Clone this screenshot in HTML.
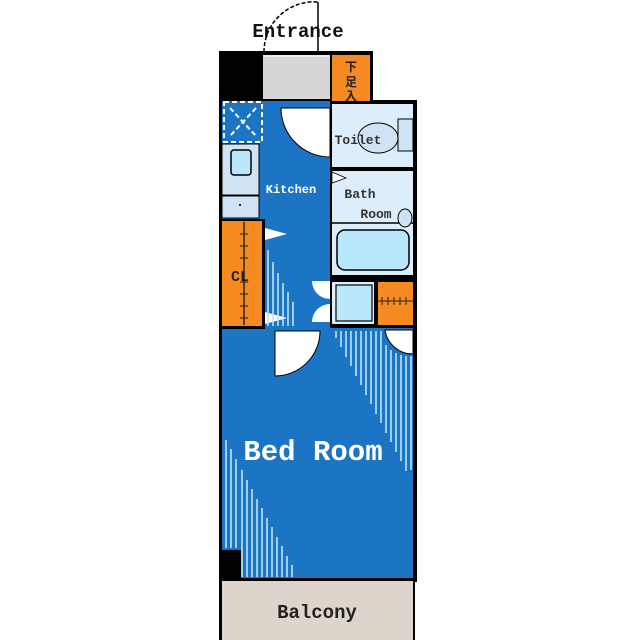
<!DOCTYPE html>
<html><head><meta charset="utf-8"><style>
html,body{margin:0;padding:0;background:#fff;width:635px;height:640px;overflow:hidden}
svg{display:block}
text{font-family:"Liberation Mono","Noto Sans CJK JP",monospace;font-weight:bold}
</style></head><body>
<svg width="635" height="640" viewBox="0 0 635 640" xmlns="http://www.w3.org/2000/svg">
<!-- entrance door arc -->
<path d="M264 52 A50 50 0 0 1 318 2" fill="none" stroke="#000" stroke-width="1.5" stroke-dasharray="4,2"/>
<line x1="318" y1="2" x2="318" y2="52" stroke="#000" stroke-width="1.5"/>
<text x="298" y="37" font-size="19" text-anchor="middle" fill="#111">Entrance</text>
<!-- outer walls -->
<rect x="219" y="51" width="154" height="52" fill="#000"/>
<rect x="219" y="100" width="198" height="482" fill="#000"/>
<rect x="219" y="578" width="196" height="62" fill="#000"/>
<!-- entrance gray -->
<rect x="263" y="55" width="67" height="44" fill="#d6d6d6"/>
<line x1="263" y1="56" x2="330" y2="56" stroke="#fff" stroke-width="1"/>
<!-- 下足入 -->
<rect x="332" y="55" width="38" height="46" fill="#f58a20"/>
<text x="351" y="71" font-size="12" text-anchor="middle" fill="#222">下</text>
<text x="351" y="86" font-size="12" text-anchor="middle" fill="#222">足</text>
<text x="351" y="100" font-size="12" text-anchor="middle" fill="#222">入</text>
<!-- blue main -->
<rect x="222" y="101" width="108" height="227" fill="#1c74c4"/>
<rect x="222" y="328" width="191" height="250" fill="#1c74c4"/>
<!-- X box -->
<rect x="224" y="102" width="38" height="40" fill="#1c74c4" stroke="#fff" stroke-width="2" stroke-dasharray="5,3"/>
<path d="M230 108 L256 136 M256 108 L230 136" stroke="#fff" stroke-width="2" stroke-dasharray="5,3"/>
<!-- sink -->
<rect x="222" y="144" width="37" height="51" fill="#cfe3f5" stroke="#000" stroke-width="1"/>
<rect x="231" y="150" width="20" height="25" rx="3" fill="#b8e8fa" stroke="#000" stroke-width="1.5"/>
<rect x="222" y="196" width="37" height="22" fill="#cfe3f5" stroke="#000" stroke-width="1"/>
<circle cx="240" cy="205" r="1" fill="#000"/>
<!-- CL -->
<rect x="220" y="219" width="45" height="110" fill="#000"/>
<rect x="222" y="221" width="40" height="105" fill="#f58a20"/>
<line x1="244" y1="222" x2="244" y2="325" stroke="#222" stroke-width="1.5"/>
<g stroke="#222" stroke-width="1"><line x1="240" y1="234" x2="248" y2="234"/><line x1="240" y1="246" x2="248" y2="246"/><line x1="240" y1="258" x2="248" y2="258"/><line x1="240" y1="282" x2="248" y2="282"/><line x1="240" y1="294" x2="248" y2="294"/><line x1="240" y1="306" x2="248" y2="306"/><line x1="240" y1="318" x2="248" y2="318"/></g>
<text x="240" y="281" font-size="15" text-anchor="middle" fill="#222">CL</text>
<!-- closet door triangles -->
<path d="M265 228 L287 234 L265 240 Z" fill="#fff"/>
<path d="M265 312 L287 318 L265 324 Z" fill="#fff"/>
<!-- kitchen stripes -->
<g stroke="#bfe4f8" stroke-width="1.6">
<line x1="268" y1="250" x2="268" y2="326"/><line x1="273" y1="262" x2="273" y2="326"/><line x1="278" y1="273" x2="278" y2="326"/><line x1="283" y1="283" x2="283" y2="326"/><line x1="288" y1="292" x2="288" y2="326"/><line x1="293" y1="302" x2="293" y2="326"/>
</g>
<text x="291" y="193" font-size="12" text-anchor="middle" fill="#fff">Kitchen</text>
<!-- toilet door -->
<path d="M281 108 L330 108 L330 157 A49 49 0 0 1 281 108 Z" fill="#fff" stroke="#000" stroke-width="1"/>
<!-- toilet -->
<rect x="332" y="104" width="81" height="63" fill="#ddeefa"/>
<rect x="398" y="119" width="15" height="32" fill="#cfe3f5" stroke="#000" stroke-width="1"/>
<ellipse cx="378" cy="138" rx="20" ry="15" fill="#cfe3f5" stroke="#000" stroke-width="1"/>
<text x="358" y="144" font-size="13" text-anchor="middle" fill="#333">Toilet</text>
<!-- bath -->
<rect x="332" y="171" width="81" height="104" fill="#ddeefa"/>
<line x1="332" y1="223" x2="413" y2="223" stroke="#000" stroke-width="1.5"/>
<rect x="337" y="230" width="72" height="40" rx="8" fill="#b8e8fa" stroke="#000" stroke-width="1.5"/>
<path d="M332 172 L346 178 L332 183 Z" fill="#fff" stroke="#000" stroke-width="0.8"/>
<ellipse cx="405" cy="218" rx="7" ry="9" fill="#cfe3f5" stroke="#000" stroke-width="1"/>
<text x="360" y="198" font-size="13" text-anchor="middle" fill="#333">Bath</text>
<text x="376" y="218" font-size="13" text-anchor="middle" fill="#333">Room</text>
<!-- washer box / orange -->
<rect x="332" y="282" width="42" height="42" fill="#ddeefa"/>
<rect x="336" y="285" width="36" height="36" fill="#b8e8fa" stroke="#000" stroke-width="1.2"/>
<rect x="378" y="282" width="35" height="43" fill="#f58a20"/>
<line x1="378" y1="301" x2="413" y2="301" stroke="#222" stroke-width="1"/>
<g stroke="#222" stroke-width="1"><line x1="382" y1="297" x2="382" y2="305"/><line x1="388" y1="297" x2="388" y2="305"/><line x1="394" y1="297" x2="394" y2="305"/><line x1="400" y1="297" x2="400" y2="305"/><line x1="406" y1="297" x2="406" y2="305"/></g>
<!-- small doors left of washer -->
<path d="M330 281 L312 281 A18 18 0 0 0 330 299 Z" fill="#fff"/>
<path d="M330 322 L312 322 A18 18 0 0 1 330 304 Z" fill="#fff"/>
<!-- bedroom doors -->
<path d="M275 331 L320 331 A45 45 0 0 1 275 376 Z" fill="#fff" stroke="#000" stroke-width="1"/>
<path d="M385 330 L413 330 L413 354 A28 28 0 0 1 385 330 Z" fill="#fff" stroke="#000" stroke-width="1"/>
<!-- bedroom stripes right -->
<g stroke="#bfe4f8" stroke-width="1.6">
<line x1="336" y1="331" x2="336" y2="338"/><line x1="341" y1="331" x2="341" y2="347"/><line x1="346" y1="331" x2="346" y2="357"/><line x1="351" y1="331" x2="351" y2="366"/><line x1="356" y1="331" x2="356" y2="376"/><line x1="361" y1="331" x2="361" y2="385"/><line x1="366" y1="331" x2="366" y2="395"/><line x1="371" y1="331" x2="371" y2="404"/><line x1="376" y1="331" x2="376" y2="414"/><line x1="381" y1="331" x2="381" y2="423"/><line x1="386" y1="345" x2="386" y2="433"/><line x1="391" y1="350" x2="391" y2="442"/><line x1="396" y1="353" x2="396" y2="452"/><line x1="401" y1="355" x2="401" y2="461"/><line x1="406" y1="356" x2="406" y2="471"/><line x1="411" y1="356" x2="411" y2="470"/>
</g>
<!-- bedroom stripes left -->
<g stroke="#bfe4f8" stroke-width="1.6">
<line x1="226" y1="440" x2="226" y2="548"/><line x1="231" y1="449" x2="231" y2="548"/><line x1="236" y1="459" x2="236" y2="548"/><line x1="242" y1="470" x2="242" y2="577"/><line x1="247" y1="480" x2="247" y2="577"/><line x1="252" y1="489" x2="252" y2="577"/><line x1="257" y1="499" x2="257" y2="577"/><line x1="262" y1="508" x2="262" y2="577"/><line x1="267" y1="518" x2="267" y2="577"/><line x1="272" y1="527" x2="272" y2="577"/><line x1="277" y1="537" x2="277" y2="577"/><line x1="282" y1="546" x2="282" y2="577"/><line x1="287" y1="556" x2="287" y2="577"/><line x1="292" y1="565" x2="292" y2="577"/>
</g>
<rect x="222" y="550" width="19" height="28" fill="#000"/>
<text x="313" y="460" font-size="29" text-anchor="middle" fill="#fff">Bed Room</text>
<!-- balcony -->
<rect x="222" y="581" width="191" height="59" fill="#ddd4cc"/>
<text x="317" y="618" font-size="19" text-anchor="middle" fill="#222">Balcony</text>
</svg>
</body></html>
